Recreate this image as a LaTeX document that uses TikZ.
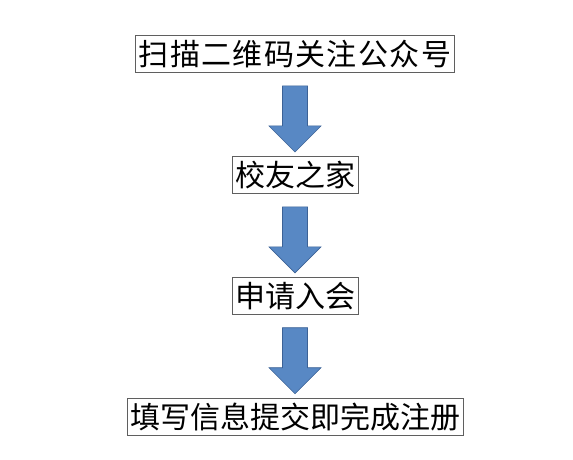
\documentclass[tikz,border=0pt]{standalone}
\usepackage{fontspec}
\newfontfamily\cjk{Noto Sans CJK SC}
\definecolor{arrowfill}{RGB}{88, 136, 196}
\definecolor{arrowedge}{RGB}{60, 98, 150}
\definecolor{boxline}{RGB}{95, 95, 95}
\usetikzlibrary{positioning, calc}
\tikzset{
    stepbox/.style={
        rectangle, draw=boxline, fill=white,
        line width=0.9pt, inner xsep=3pt, inner ysep=0pt,
        minimum height=37pt, text=black,
        font=\cjk\fontsize{30}{30}\selectfont
    },
    blockarrow/.style={fill=arrowfill, draw=arrowedge, line width=0.6pt}
}
% block arrow from one box down to the next
\newcommand{\downblock}[2]{%
    \draw[blockarrow]
        ($(#1.south)+(-12.5,-13)$) -- ($(#1.south)+(12.5,-13)$)
        -- ($(#2.north)+(12.5,30)$) -- ($(#2.north)+(26,30)$)
        -- ($(#2.north)+(0,4)$) -- ($(#2.north)+(-26,30)$)
        -- ($(#2.north)+(-12.5,30)$) -- cycle;
}

\begin{document}
\begin{tikzpicture}[x=1pt, y=1pt, node distance=83pt]
    \useasboundingbox (0,0) rectangle (573,460);

    % Steps
    \node[stepbox, font=\cjk\fontsize{30}{30}\selectfont\addfontfeature{LetterSpace=4.5}] (scan) at (295,406) {扫描二维码关注公众号};
    \node[stepbox, below=of scan] (home) {校友之家};
    \node[stepbox, below=of home] (join) {申请入会};
    \node[stepbox, below=of join] (reg) {填写信息提交即完成注册};

    % Arrows
    \downblock{scan}{home}
    \downblock{home}{join}
    \downblock{join}{reg}

\end{tikzpicture}
\end{document}
